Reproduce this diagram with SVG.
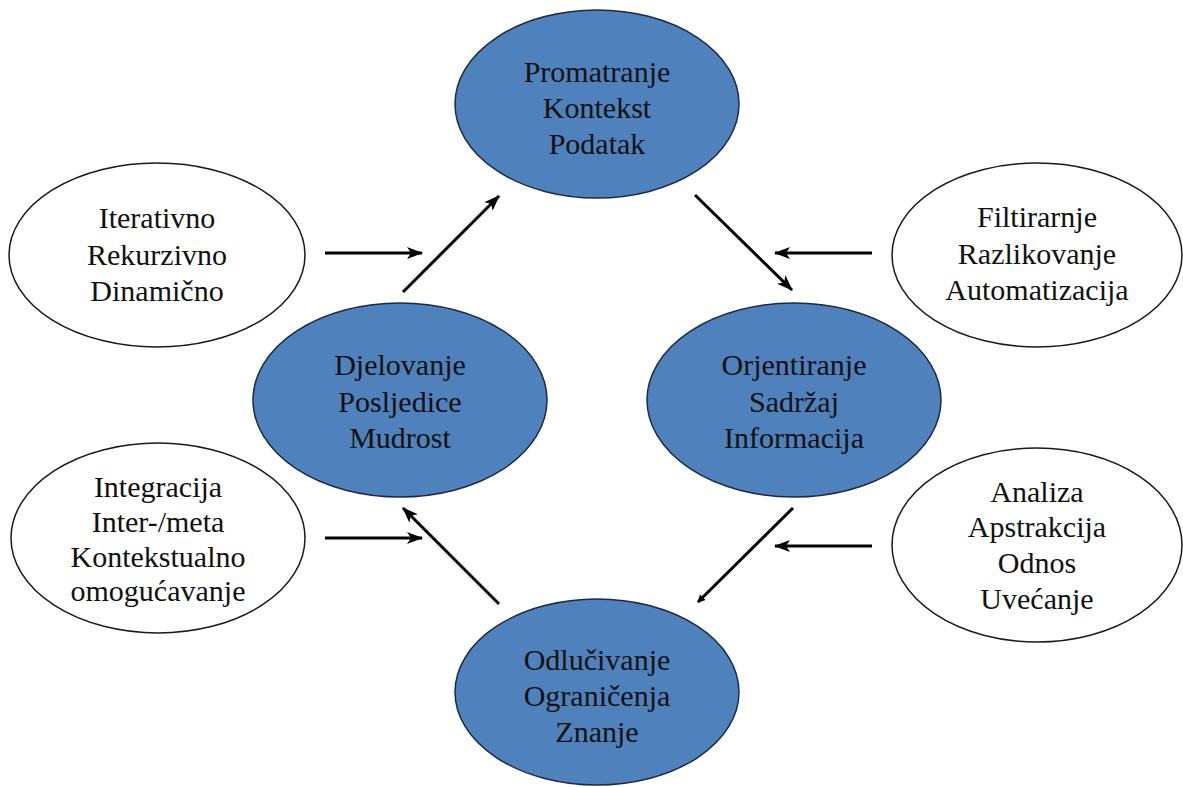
<svg xmlns="http://www.w3.org/2000/svg" width="1183" height="787" viewBox="0 0 1183 787">
  <style>
    .core { fill: #4f81bd; stroke: #1c2a44; stroke-width: 1.5; }
    .side { fill: #ffffff; stroke: #1a1a1a; stroke-width: 1.5; }
    text { font-family: "Liberation Serif", "Times New Roman", serif; font-size: 30px; fill: #111111; text-anchor: middle; }
    .arrow { stroke: #000000; stroke-width: 3; fill: none; marker-end: url(#head); }
    .arrow-small { stroke: #000000; stroke-width: 3; fill: none; marker-end: url(#headSmall); }
  </style>
  <defs>
    <marker id="head" viewBox="0 0 16 12" refX="15" refY="6" markerWidth="16" markerHeight="12" markerUnits="userSpaceOnUse" orient="auto">
      <path d="M0,0 L16,6 L0,12 L4,6 Z" fill="#000000"/>
    </marker>
    <marker id="headSmall" viewBox="0 0 8 8" refX="7" refY="4" markerWidth="8" markerHeight="8" markerUnits="userSpaceOnUse" orient="auto">
      <path d="M0,0 L8,4 L0,8 Z" fill="#000000"/>
    </marker>
  </defs>

  <rect width="1183" height="787" fill="#ffffff"/>

  <!-- connectors -->
  <g id="connectors">
    <line class="arrow" x1="325" y1="253" x2="422" y2="253"/>
    <line class="arrow" x1="403" y1="292" x2="499" y2="196"/>
    <line class="arrow" x1="695" y1="195" x2="792" y2="290"/>
    <line class="arrow" x1="872" y1="253" x2="775" y2="253"/>
    <line class="arrow-small" x1="793" y1="508" x2="698" y2="602"/>
    <line class="arrow" x1="872" y1="546" x2="775" y2="546"/>
    <line class="arrow" x1="499" y1="604" x2="403" y2="508"/>
    <line class="arrow" x1="325" y1="538" x2="422" y2="538"/>
  </g>

  <!-- core cycle -->
  <g id="promatranje">
    <ellipse class="core" cx="597" cy="104" rx="142" ry="94"/>
    <text x="597" y="82">Promatranje</text>
    <text x="597" y="118">Kontekst</text>
    <text x="597" y="154">Podatak</text>
  </g>
  <g id="orjentiranje">
    <ellipse class="core" cx="794" cy="400" rx="147" ry="97"/>
    <text x="794" y="375">Orjentiranje</text>
    <text x="794" y="412">Sadržaj</text>
    <text x="794" y="448">Informacija</text>
  </g>
  <g id="odlucivanje">
    <ellipse class="core" cx="597" cy="692" rx="142" ry="93"/>
    <text x="597" y="670">Odlučivanje</text>
    <text x="597" y="706">Ograničenja</text>
    <text x="597" y="742">Znanje</text>
  </g>
  <g id="djelovanje">
    <ellipse class="core" cx="400" cy="400" rx="147" ry="97"/>
    <text x="400" y="375">Djelovanje</text>
    <text x="400" y="412">Posljedice</text>
    <text x="400" y="448">Mudrost</text>
  </g>

  <!-- side qualities -->
  <g id="iterativno">
    <ellipse class="side" cx="157" cy="255" rx="148" ry="92"/>
    <text x="157" y="228">Iterativno</text>
    <text x="157" y="265">Rekurzivno</text>
    <text x="157" y="301">Dinamično</text>
  </g>
  <g id="filtriranje">
    <ellipse class="side" cx="1037" cy="255" rx="145" ry="92"/>
    <text x="1037" y="227">Filtirarnje</text>
    <text x="1037" y="264">Razlikovanje</text>
    <text x="1037" y="300">Automatizacija</text>
  </g>
  <g id="integracija">
    <ellipse class="side" cx="158" cy="538" rx="147" ry="95"/>
    <text x="158" y="497">Integracija</text>
    <text x="158" y="532">Inter-/meta</text>
    <text x="158" y="567">Kontekstualno</text>
    <text x="158" y="601">omogućavanje</text>
  </g>
  <g id="analiza">
    <ellipse class="side" cx="1037" cy="545" rx="145" ry="97"/>
    <text x="1037" y="502">Analiza</text>
    <text x="1037" y="537">Apstrakcija</text>
    <text x="1037" y="573">Odnos</text>
    <text x="1037" y="609">Uvećanje</text>
  </g>
</svg>
